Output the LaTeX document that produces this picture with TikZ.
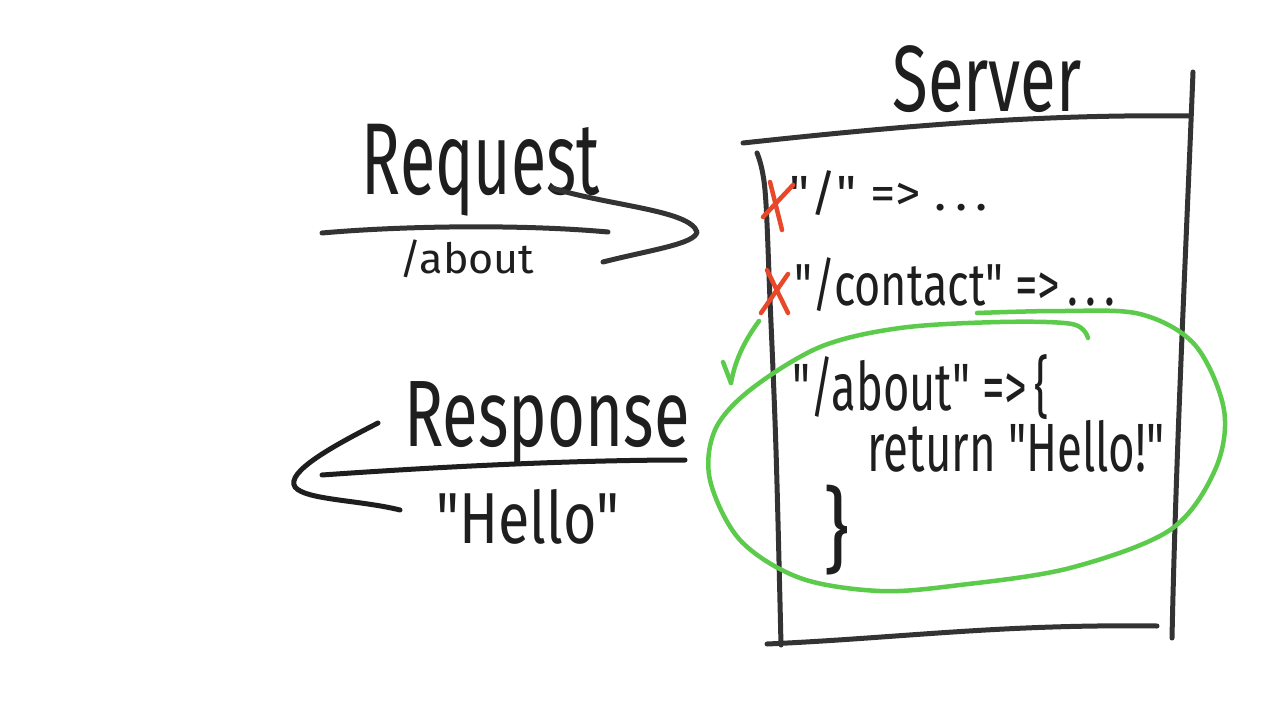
\documentclass[tikz,border=0pt]{standalone}
\usepackage{fontspec}
\usepackage{graphicx}
\setmainfont{Fira Sans}
\definecolor{ink}{HTML}{1E1E1E}
\definecolor{pen}{HTML}{333333}
\definecolor{xred}{HTML}{E8472A}
\definecolor{loop}{HTML}{5CCB4B}
\newcommand{\hwtext}[3]{\resizebox*{#1pt}{#2pt}{#3}}
\newcommand{\qd}{\textquotedbl}
\begin{document}
\begin{tikzpicture}[x=1pt,y=-1pt,
  pen/.style={draw=pen,line width=5pt,line cap=round,line join=round},
  inkline/.style={draw=ink,line width=5pt,line cap=round,line join=round},
  xmark/.style={draw=xred,line width=4.5pt,line cap=round},
  loopline/.style={draw=loop,line width=4.5pt,line cap=round,line join=round},
  hw/.style={inner sep=0pt,outer sep=0pt,text=ink,anchor=center}]
\useasboundingbox (0,0) rectangle (1280,720);
\fill[white] (0,0) rectangle (1280,720);

% ---- Server box ----
\node[hw] (server) at (987,79) {\hwtext{189}{67}{Server}};
\draw[pen] (743,143) .. controls (900,126) and (1040,114) .. (1190,116);
\draw[pen] (1193,72) .. controls (1186,250) and (1176,450) .. (1172,638);
\draw[pen] plot[smooth,tension=0.6] coordinates {(757,153) (765,190) (770,300) (776,450) (781,645)};
\draw[pen] (767,644) .. controls (900,638) and (1000,624) .. (1157,626);

% ---- routes ----
\node[hw] (r1) at (889,193) {\hwtext{198}{45}{\qd/\qd\ =>\ .\,.\,.}};
\node[hw] (r2) at (955,285) {\hwtext{320}{54}{\qd/contact\qd\ =>\,.\,.\,.}};
\node[hw] (r3) at (921,387) {\hwtext{257}{65}{\qd/about\qd\ =>\,\{}};
\node[hw] (r4) at (1016,446) {\hwtext{297}{52}{return \qd Hello!\qd}};
\node[hw] (r5) at (836,530) {\hwtext{26}{90}{\}}};

% red crosses
\draw[xmark] (763,217) -- (793,185);
\draw[xmark] (770,182) -- (782,230);
\draw[xmark] (761,313) -- (788,274);
\draw[xmark] (767,270) -- (788,313);

% green loop
\draw[loopline] plot[smooth,tension=0.55] coordinates {(977,313) (1060,311) (1140,314) (1195,345) (1224,410) (1215,470) (1170,530) (1070,568) (960,585) (880,591) (800,578) (740,540) (710,480) (715,430) (750,390) (820,347) (900,328) (1000,322) (1072,324) (1088,338)};
\coordinate (gs) at (759,321);
\coordinate (ge) at (731,383);
\draw[loopline] (gs) .. controls (745,340) and (735,360) .. (ge);
\draw[loopline] (723,362) -- (ge);

% ---- Request ----
\node[hw] (req) at (481,170) {\hwtext{238}{92}{Request}};
\node[hw] (reqpath) at (467,259) {\hwtext{135}{38}{/about}};
\draw[pen] (322,233) .. controls (400,226) and (520,224) .. (608,232);
\coordinate (qa) at (552,188);
\coordinate (qtip) at (697,232);
\coordinate (qb) at (603,262);
\draw[pen] (qa) .. controls (610,206) and (690,210) .. (qtip) .. controls (695,244) and (650,250) .. (qb);

% ---- Response ----
\node[hw] (resp) at (547,424) {\hwtext{285}{85}{Response}};
\node[hw] (hello) at (528,517) {\hwtext{183}{55}{\qd Hello\qd}};
\draw[inkline] (322,475) .. controls (450,466) and (580,460) .. (685,460);
\coordinate (sa) at (378,423);
\coordinate (stip) at (295,487);
\coordinate (sb) at (400,510);
\draw[inkline] (sa) .. controls (335,445) and (285,472) .. (stip) .. controls (305,500) and (360,500) .. (sb);
\end{tikzpicture}
\end{document}
